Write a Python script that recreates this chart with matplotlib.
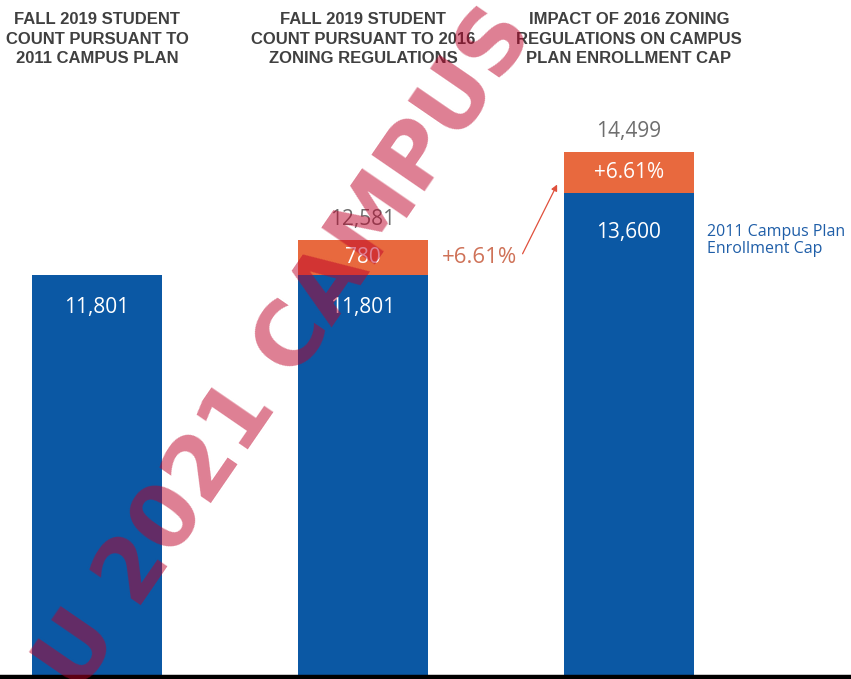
import matplotlib
matplotlib.use("Agg")
import matplotlib.pyplot as plt
from matplotlib import font_manager

# ---------------- data ----------------
categories = [
    "FALL 2019 STUDENT\nCOUNT PURSUANT TO\n2011 CAMPUS PLAN",
    "FALL 2019 STUDENT\nCOUNT PURSUANT TO 2016\nZONING REGULATIONS",
    "IMPACT OF 2016 ZONING\nREGULATIONS ON CAMPUS\nPLAN ENROLLMENT CAP",
]
base_values = [11801, 11801, 13600]
added_values = [0, 780, 899]
base_labels = ["11,801", "11,801", "13,600"]
added_labels = ["", "780", "+6.61%"]
total_labels = ["", "12,581", "14,499"]
growth_label = "+6.61%"
cap_label = "2011 Campus Plan\nEnrollment Cap"
watermark = "U 2021 CAMPUS"

# ---------------- style ----------------
BLUE = "#0b58a4"
ORANGE = "#e8693e"
GRAY_TITLE = "#404040"
GRAY_NUM = "#6e6e6e"

avail = {f.name for f in font_manager.fontManager.ttflist}
title_font = "Liberation Sans Narrow" if "Liberation Sans Narrow" in avail else "Liberation Sans"
title_size = 14 if title_font == "Liberation Sans Narrow" else 12
num_font = ["Open Sans", "DejaVu Sans"]

PX = 0.72  # points per pixel at dpi 100

fig = plt.figure(figsize=(8.51, 6.79), dpi=100)
fig.patch.set_facecolor("white")
ax = fig.add_axes([0, 2 / 679, 1, 677 / 679])

x = [0, 1, 2]
w = 0.49
ax.bar(x, base_values, width=w, color=BLUE, zorder=2)
ax.bar(x, added_values, width=w, bottom=base_values, color=ORANGE, zorder=2)

ax.set_xlim(-0.365, 2.835)
ax.set_ylim(3050, 17800)
for s in ["left", "right", "top"]:
    ax.spines[s].set_visible(False)
ax.spines["bottom"].set_linewidth(3.2)
ax.spines["bottom"].set_color("black")
ax.set_xticks([])
ax.set_yticks([])

# titles
for xi, cat in zip(x, categories):
    ax.text(xi, 1 - 12 / 677, cat, transform=ax.get_xaxis_transform(),
            ha="center", va="top", fontsize=title_size, fontweight="bold",
            family=title_font, color=GRAY_TITLE, linespacing=1.38)

# value labels
offsets = [-32, -32, -40]
for xi, b, a, bl, al, tl, off in zip(x, base_values, added_values,
                                     base_labels, added_labels, total_labels, offsets):
    ax.annotate(bl, xy=(xi, b), xytext=(0, off * PX), textcoords="offset points",
                ha="center", va="center", color="white", fontsize=15,
                family=num_font, zorder=3)
    if a:
        ax.text(xi, b + a / 2, al, ha="center", va="center", color="white",
                fontsize=15, family=num_font, zorder=3)
        ax.annotate(tl, xy=(xi, b + a), xytext=(0, 20 * PX), textcoords="offset points",
                    ha="center", va="center", color=GRAY_NUM, fontsize=15,
                    family=num_font, zorder=3)

# growth annotation between bars 2 and 3
mid2 = base_values[1] + added_values[1] / 2
mid3 = base_values[2] + added_values[2] * 0.2
ax.text(1 + w / 2 + 0.05, mid2, growth_label, ha="left", va="center",
        color="#cf7258", fontsize=16, family=num_font, zorder=3)
ax.annotate("", xy=(2 - w / 2 - 0.025, mid3), xytext=(1.6, mid2 + 80),
            arrowprops=dict(arrowstyle="-|>", color="#e0503c", lw=0.9,
                            mutation_scale=9, shrinkA=0, shrinkB=0), zorder=3)

# cap label
ax.annotate(cap_label, xy=(2 + w / 2, base_values[2]), xytext=(13 * PX, -48 * PX),
            textcoords="offset points", ha="left", va="center", color="#1f5ea8",
            fontsize=11.5, family=num_font, linespacing=1.1)

# watermark
fig.text(287 / 851, 1 - 350 / 679, watermark, rotation=55.5, rotation_mode="anchor",
         ha="center", va="center", fontsize=64, fontweight="bold",
         family="DejaVu Sans", color="#bd0028", alpha=0.5, zorder=10)

fig.savefig("out.png", dpi=100, facecolor="white")
